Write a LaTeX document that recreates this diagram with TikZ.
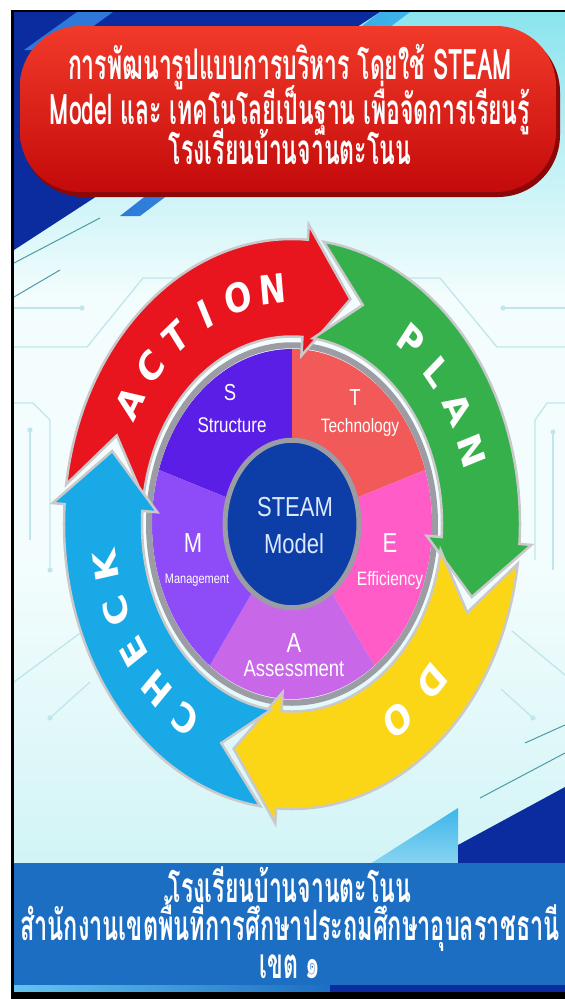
\documentclass[tikz,border=0pt]{standalone}
\usepackage{fontspec}
\setmainfont{Liberation Sans}
\newfontfamily\thaifont[Script=Thai]{Loma}
\newfontfamily\heavyfont{DejaVu Sans}
\definecolor{navy}{HTML}{0B2C9E}
\definecolor{midblue}{HTML}{2E78DA}
\definecolor{skyc}{HTML}{3CB6EA}
\definecolor{bgtop}{HTML}{8BE4EE}
\definecolor{bgmid}{HTML}{F4FDFD}
\definecolor{bgbot}{HTML}{D2F4F6}
\definecolor{tealline}{HTML}{4A9CA8}
\definecolor{circcol}{HTML}{BFE6EC}
\definecolor{pilltop}{HTML}{F23A2A}
\definecolor{pillbot}{HTML}{C40A0A}
\definecolor{pillrim}{HTML}{8A0808}
\definecolor{bandblue}{HTML}{1C6EC2}
\definecolor{actred}{HTML}{E8141E}
\definecolor{plangreen}{HTML}{36B04A}
\definecolor{doyellow}{HTML}{FAD617}
\definecolor{checkblue}{HTML}{18A9E6}
\definecolor{arrowrim}{HTML}{C9C9CC}
\definecolor{segS}{HTML}{5B1EE6}
\definecolor{segT}{HTML}{F25959}
\definecolor{segE}{HTML}{FF5CC8}
\definecolor{segA}{HTML}{C867E8}
\definecolor{segM}{HTML}{8D4CF7}
\definecolor{ringgray}{HTML}{9C9CA4}
\definecolor{steamblue}{HTML}{0D3EA8}
\definecolor{steamtext}{HTML}{DCE8FF}
\usetikzlibrary{calc}
\tikzset{
  titletext/.style={text=white, font=\thaifont\bfseries\fontsize{32}{36}\selectfont, inner sep=0, xscale=0.72, yscale=1.32},
  cycletext/.style={text=white, font=\heavyfont\bfseries\fontsize{32}{32}\selectfont, inner sep=0},
  seglabel/.style={text=white, inner sep=0, yscale=1.25},
  steamlabel/.style={text=steamtext, inner sep=0, yscale=1.25, font=\fontsize{22}{24}\selectfont},
  arrowband/.style={draw=arrowrim, line width=2.5, line join=miter},
  circ/.style={draw=circcol, line width=1.3},
  tline/.style={draw=tealline, line width=1}
}
\newcommand{\cyclearrow}[3]{%
  \filldraw[arrowband, fill=#1] (#2:228) -- ({#2-14}:189) -- (#2:150)
    arc[start angle=#2, end angle=#3, radius=150] -- (#3:135) -- ({#3-14}:189)
    -- (#3:240) -- (#3:228) arc[start angle=#3, end angle=#2, radius=228] -- cycle;}
\begin{document}
\begin{tikzpicture}[x=1pt,y=1pt]
\useasboundingbox (0,0) rectangle (565,-999);
\fill[white] (0,0) rectangle (565,-999);
% background
\shade[top color=bgtop, bottom color=bgmid] (14,-12) rectangle (565,-300);
\fill[bgmid] (14,-300) rectangle (565,-560);
\shade[top color=bgmid, bottom color=bgbot] (14,-560) rectangle (565,-864);
% top decoration
\fill[navy] (14,-12) -- (380,-12) -- (14,-250) -- cycle;
\shade[left color=midblue, right color=skyc] (380,-12) -- (410,-12) -- (140,-216) -- (120,-216) -- cycle;
\fill[midblue] (77,-12) -- (113,-12) -- (60,-50) -- (24,-50) -- cycle;
\draw[tline] (14,-263) -- (100,-218);
\draw[tline] (14,-297) -- (60,-270);
% circuit lines
\draw[circ] (14,-308) -- (82,-308);
\fill[circcol] (82,-308) circle[radius=2.6];
\draw[circ] (14,-347) -- (87,-347) -- (143,-278) -- (200,-278);
\draw[circ] (14,-403) -- (33,-403) -- (50,-420) -- (50,-570);
\fill[circcol] (50,-570) circle[radius=2.6];
\draw[circ] (30,-430) -- (30,-540);
\fill[circcol] (30,-430) circle[radius=2.6];
\draw[circ] (14,-682) -- (83,-631);
\draw[circ] (50,-718) -- (90,-682);
\fill[circcol] (50,-718) circle[radius=2.6];
\draw[circ] (503,-308) -- (565,-308);
\fill[circcol] (503,-308) circle[radius=2.6];
\draw[circ] (400,-278) -- (440,-278) -- (497,-347) -- (565,-347);
\draw[circ] (565,-403) -- (547,-403) -- (535,-420) -- (535,-560);
\draw[circ] (553,-432) -- (553,-570);
\fill[circcol] (553,-432) circle[radius=2.6];
\draw[circ] (533,-718) -- (501,-689);
\fill[circcol] (533,-718) circle[radius=2.6];
\draw[circ] (512,-631) -- (565,-675);
% bottom-right decoration
\draw[tline] (525,-743) -- (565,-725);
\draw[tline] (480,-798) -- (565,-753);
\shade[top color=skyc, bottom color=skyc!60] (458,-808) -- (458,-864) -- (370,-864) -- cycle;
\fill[navy] (458,-845) -- (565,-787) -- (565,-864) -- (458,-864) -- cycle;
% title pill
\fill[pillrim, rounded corners=62] (22,-30) rectangle (560,-197);
\shade[rounded corners=60, top color=pilltop, bottom color=pillbot] (20,-26) rectangle (556,-192);
\node[titletext] (t1) at (290,-67) {การพัฒนารูปแบบการบริหาร โดยใช้ STEAM};
\node[titletext] (t2) at (290,-108) {Model และ เทคโนโลยีเป็นฐาน เพื่อจัดการเรียนรู้};
\node[titletext] (t3) at (290,-147) {โรงเรียนบ้านจานตะโนน};
% cycle diagram
\begin{scope}[shift={(292,-524)}, yscale=1.25]
  \fill[segS] (0,0) -- (90:140) arc[start angle=90, end angle=162, radius=140] -- cycle;
  \fill[segT] (0,0) -- (18:140) arc[start angle=18, end angle=90, radius=140] -- cycle;
  \fill[segE] (0,0) -- (-54:140) arc[start angle=-54, end angle=18, radius=140] -- cycle;
  \fill[segA] (0,0) -- (-126:140) arc[start angle=-126, end angle=-54, radius=140] -- cycle;
  \fill[segM] (0,0) -- (162:140) arc[start angle=162, end angle=234, radius=140] -- cycle;
  \draw[ringgray, line width=6] (0,0) circle[radius=143];
  \filldraw[fill=steamblue, draw=ringgray, line width=5] (0,0) circle[radius=67];
  \cyclearrow{actred}{172}{86}
  \cyclearrow{plangreen}{82}{-4}
  \cyclearrow{doyellow}{-8}{-94}
  \cyclearrow{checkblue}{-98}{-184}
  \foreach \l/\a [count=\i] in {A/149, C/138.4, T/127.8, I/117.2, O/106.6, N/96}
    \node[cycletext, yscale=1.25, rotate=\a-90] (act\i) at (\a:189) {\l};
  \foreach \l/\a [count=\i] in {P/51, L/40, A/29, N/18}
    \node[cycletext, yscale=1.25, rotate=\a-90] (plan\i) at (\a:189) {\l};
  \foreach \l/\a [count=\i] in {D/-42, O/-56}
    \node[cycletext, yscale=1.25, rotate=\a-90] (do\i) at (\a:189) {\l};
  \foreach \l/\a [count=\i] in {C/235.5, H/224.2, E/212.9, C/201.6, K/190.3}
    \node[cycletext, yscale=1.25, rotate=\a-90] (chk\i) at (\a:189) {\l};
\end{scope}
% segment labels
\node[seglabel, font=\fontsize{18.5}{20}\selectfont] (sS) at (230,-393) {S};
\node[seglabel, font=\fontsize{17}{18}\selectfont] (sStruct) at (232,-425) {Structure};
\node[seglabel, font=\fontsize{18.5}{20}\selectfont] (sT) at (355,-398) {T};
\node[seglabel, font=\fontsize{15.5}{17}\selectfont] (sTech) at (360,-427) {Technology};
\node[seglabel, font=\fontsize{22}{24}\selectfont] (sE) at (390,-543) {E};
\node[seglabel, font=\fontsize{15.5}{17}\selectfont] (sEff) at (390,-580) {Efficiency};
\node[seglabel, font=\fontsize{22}{24}\selectfont] (sA) at (294,-643) {A};
\node[seglabel, font=\fontsize{18.5}{20}\selectfont] (sAss) at (294,-669) {Assessment};
\node[seglabel, font=\fontsize{22}{24}\selectfont] (sM) at (193,-543) {M};
\node[seglabel, font=\fontsize{11}{12}\selectfont] (sMan) at (197,-580) {Management};
\node[steamlabel] (steam) at (295,-507) {STEAM};
\node[steamlabel] (model) at (294,-544) {Model};
% bottom band
\fill[bandblue] (14,-863) rectangle (565,-985);
\shade[left color=skyc!80, right color=bandblue] (14,-985) rectangle (330,-992);
\fill[navy] (330,-985) rectangle (565,-992);
\node[titletext] (b1) at (290,-885) {โรงเรียนบ้านจานตะโนน};
\node[titletext, xscale=1.02] (b2) at (290,-924) {สำนักงานเขตพื้นที่การศึกษาประถมศึกษาอุบลราชธานี};
\node[titletext] (b3) at (290,-967) {เขต ๑};
% frame
\fill[black] (11,-10) rectangle (565,-12);
\fill[black] (11,-10) rectangle (14,-999);
\fill[black] (11,-992) rectangle (565,-999);
\end{tikzpicture}
\end{document}
